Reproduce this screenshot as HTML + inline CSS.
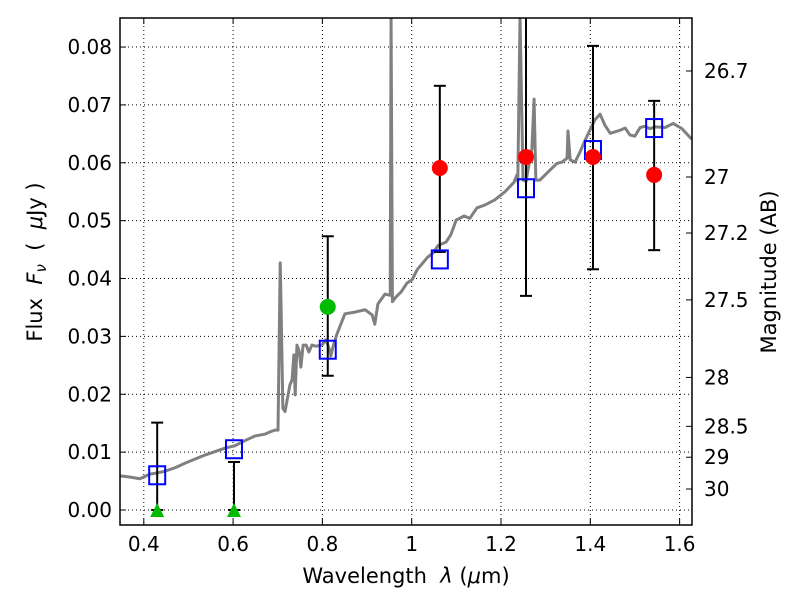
<!DOCTYPE html>
<html><head><meta charset="utf-8"><style>
body{margin:0;background:#fff}
svg text{font-family:"DejaVu Sans","Liberation Sans",sans-serif;font-size:20px;fill:#000}
</style></head><body>
<svg id="c" width="800" height="600" xmlns="http://www.w3.org/2000/svg"></svg>
<script>
const specX=[0.3458,0.3685,0.3912,0.4138,0.4296,0.4473,0.47,0.4927,0.5143,0.537,0.5597,0.5823,0.604,0.6267,0.6493,0.671,0.6828,0.6937,0.7006,0.7055,0.7075,0.7114,0.7163,0.7232,0.7272,0.7321,0.7361,0.739,0.743,0.7479,0.7518,0.7568,0.7636,0.7696,0.7765,0.7853,0.7991,0.808,0.8169,0.8188,0.8238,0.8326,0.8504,0.873,0.8957,0.9115,0.9174,0.9243,0.94,0.9519,0.9538,0.9568,0.9647,0.9765,0.9893,1.0011,1.012,1.0228,1.0346,1.0474,1.0593,1.077,1.0878,1.0997,1.1174,1.1302,1.146,1.1637,1.1864,1.209,1.2288,1.2357,1.2376,1.2426,1.2494,1.2563,1.2603,1.2692,1.2741,1.278,1.2869,1.3027,1.3253,1.3362,1.348,1.35,1.3549,1.3657,1.3766,1.3884,1.4101,1.4219,1.4327,1.4446,1.4662,1.4781,1.4889,1.4997,1.5116,1.5224,1.5332,1.5451,1.5678,1.5855,1.6052,1.6269];
const specY=[0.0059,0.0057,0.0054,0.0062,0.0064,0.0067,0.0073,0.0081,0.0088,0.0095,0.0101,0.0107,0.0111,0.012,0.0128,0.0131,0.0135,0.0138,0.0138,0.0427,0.035,0.0176,0.017,0.0199,0.0216,0.0225,0.0268,0.0199,0.0285,0.0275,0.0247,0.0285,0.0285,0.0273,0.0285,0.0283,0.0285,0.0294,0.0275,0.0266,0.0282,0.0304,0.0339,0.0342,0.0346,0.0337,0.0321,0.0356,0.0373,0.0371,0.085,0.036,0.0368,0.0377,0.0392,0.0398,0.0415,0.0425,0.0436,0.0444,0.0457,0.0463,0.0476,0.0501,0.0508,0.0504,0.0522,0.0527,0.0536,0.055,0.0566,0.0579,0.0568,0.085,0.057,0.0568,0.0587,0.0624,0.071,0.057,0.057,0.0582,0.0599,0.0601,0.0608,0.0655,0.0605,0.0601,0.0618,0.0639,0.0674,0.0684,0.0665,0.0651,0.0656,0.066,0.0648,0.0646,0.0661,0.0663,0.0659,0.0662,0.0661,0.0668,0.0659,0.0641];
const modelX=[0.43,0.602,0.812,1.063,1.256,1.406,1.543];
const modelY=[0.0060,0.0105,0.0277,0.0433,0.0556,0.0622,0.0660];
const detX=[1.063,1.256,1.406,1.543];
const detY=[0.0591,0.0610,0.0610,0.0579];
const detLo=[0.0446,0.0370,0.0416,0.0449];
const detHi=[0.0733,0.0950,0.0802,0.0707];
const gX=[0.812]; const gY=[0.0351]; const gLo=[0.0232]; const gHi=[0.0473];
const ulX=[0.43,0.602]; const ulY=[0,0]; const ulHi=[0.0151,0.0083];
const xTicks=[0.4,0.6,0.8,1,1.2,1.4,1.6];
const xTickLabels=["0.4","0.6","0.8","1","1.2","1.4","1.6"];
const yTicks=[0,0.01,0.02,0.03,0.04,0.05,0.06,0.07,0.08];
const yTickLabels=["0.00","0.01","0.02","0.03","0.04","0.05","0.06","0.07","0.08"];
const magTicks=[26.7,27,27.2,27.5,28,28.5,29,30];
const magLabels=["26.7","27","27.2","27.5","28","28.5","29","30"];

const L=120,R=692,T=18,B=525;
const X=v=>411.7+(v-1)*446.5;
const Y=v=>510-v*5787;
const svg=document.getElementById('c');
const NS='http://www.w3.org/2000/svg';
function mk(tag,attrs,parent){const e=document.createElementNS(NS,tag);for(const k in attrs)e.setAttribute(k,attrs[k]);(parent||svg).appendChild(e);return e;}
const defs=mk('defs',{});
const cp=mk('clipPath',{id:'clip'},defs);mk('rect',{x:L,y:T,width:R-L,height:B-T},cp);

const grid=mk('g',{stroke:'#000','stroke-width':1,'stroke-dasharray':'1,3'});


xTicks.forEach(t=>mk('line',{x1:X(t),x2:X(t),y1:T,y2:B},grid));
yTicks.forEach(t=>mk('line',{x1:L,x2:R,y1:Y(t),y2:Y(t)},grid));

const plot=mk('g',{'clip-path':'url(#clip)'});
const sp=mk('polyline',{points:specX.map((x,i)=>X(x)+','+Y(specY[i])).join(' '),fill:'none',stroke:'#808080','stroke-width':3,'stroke-linejoin':'round'},plot);



function err(x,lo,hi,name){const g=mk('g',{stroke:'#000','stroke-width':2},plot);


mk('line',{x1:X(x),x2:X(x),y1:Y(lo),y2:Y(hi)},g);
mk('line',{x1:X(x)-6,x2:X(x)+6,y1:Y(lo),y2:Y(lo)},g);
mk('line',{x1:X(x)-6,x2:X(x)+6,y1:Y(hi),y2:Y(hi)},g);}
ulX.forEach((x,i)=>err(x,ulY[i],ulHi[i],'upper-limit-errorbar'));
gX.forEach((x,i)=>err(x,gLo[i],gHi[i],'green-errorbar'));
detX.forEach((x,i)=>err(x,detLo[i],detHi[i],'detection-errorbar'));
modelX.forEach((x,i)=>{const r=mk('rect',{x:X(x)-8,y:Y(modelY[i])-9,width:16,height:18,fill:'none',stroke:'#0000ff','stroke-width':2},plot);

});
detX.forEach((x,i)=>{const c=mk('circle',{cx:X(x),cy:Y(detY[i]),r:8,fill:'#ff0000'},plot);

});
gX.forEach((x,i)=>{const c=mk('circle',{cx:X(x),cy:Y(gY[i]),r:8,fill:'#00bb00'},plot);

});
ulX.forEach((x,i)=>{const px=X(x),py=Y(ulY[i]);const p=mk('polygon',{points:`${px-7},${py+7} ${px+7},${py+7} ${px},${py-7}`,fill:'#00bb00'},plot);

});

const fr=mk('rect',{x:L,y:T,width:R-L,height:B-T,fill:'none',stroke:'#000','stroke-width':1.5});



const ax=mk('g',{stroke:'#000','stroke-width':1});
xTicks.forEach((t,i)=>{mk('line',{x1:X(t),x2:X(t),y1:B,y2:B-6},ax);mk('line',{x1:X(t),x2:X(t),y1:T,y2:T+6},ax);
const tx=mk('text',{x:X(t),y:B+26,'text-anchor':'middle',stroke:'none'});tx.textContent=xTickLabels[i];

});
yTicks.forEach((t,i)=>{mk('line',{x1:L,x2:L+6,y1:Y(t),y2:Y(t)},ax);
const tx=mk('text',{x:L-8,y:Y(t)+7,'text-anchor':'end',stroke:'none'});tx.textContent=yTickLabels[i];

});
magTicks.forEach((m,i)=>{const f=Math.pow(10,(23.9-m)/2.5);const y=Y(f);mk('line',{x1:R,x2:R-6,y1:y,y2:y},ax);
const tx=mk('text',{x:R+12,y:y+7,'text-anchor':'start',stroke:'none'});tx.textContent=magLabels[i];

});
</script>
<svg width="800" height="600" style="position:absolute;left:0;top:0" xmlns="http://www.w3.org/2000/svg">
<text x="406" y="583" text-anchor="middle" style="font-family:'DejaVu Sans',sans-serif;font-size:21px">Wavelength&#160;&#160;<tspan font-style="italic">λ</tspan> (<tspan font-style="italic">μ</tspan>m)</text>
<text transform="translate(42,262) rotate(-90)" text-anchor="middle" style="font-family:'DejaVu Sans',sans-serif;font-size:21px">Flux&#160;&#160;<tspan font-style="italic">F</tspan><tspan font-style="italic" font-size="15" dy="4">ν</tspan><tspan dy="-4">&#160;&#160;(&#160;&#160;</tspan><tspan font-style="italic">μ</tspan>Jy )</text>
<text transform="translate(776,272) rotate(-90)" text-anchor="middle" style="font-family:'DejaVu Sans',sans-serif;font-size:21px">Magnitude (AB)</text>
</svg>
</body></html>
